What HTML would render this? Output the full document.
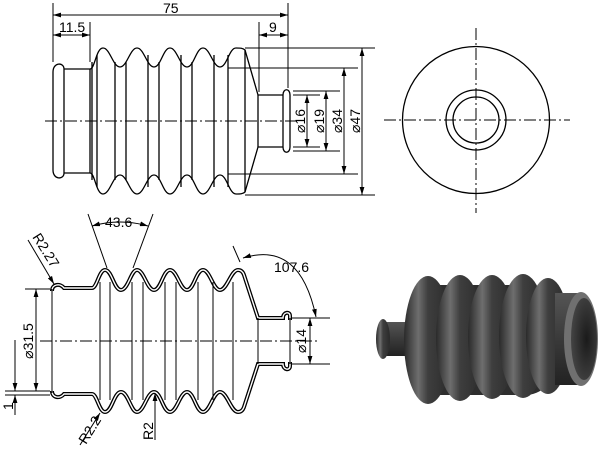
<!DOCTYPE html>
<html><head><meta charset="utf-8"><style>
html,body{margin:0;padding:0;background:#fff;width:600px;height:450px;overflow:hidden}
svg{display:block}
text{font-family:"Liberation Sans",sans-serif;font-size:14px;fill:#000}
</style></head><body>
<svg width="600" height="450" viewBox="0 0 600 450" xmlns="http://www.w3.org/2000/svg">
<defs>
<marker id="a" viewBox="0 0 10 6" refX="10" refY="3" markerWidth="8" markerHeight="5" orient="auto-start-reverse"><path d="M0,0L10,3L0,6z" fill="#000"/></marker>
<linearGradient id="ring" x1="0" y1="0" x2="1" y2="0">
<stop offset="0" stop-color="#2a2a2a"/><stop offset="0.3" stop-color="#6e6e6e"/><stop offset="0.5" stop-color="#3e3e3e"/><stop offset="1" stop-color="#2a2a2a"/></linearGradient>
<linearGradient id="vert" x1="0" y1="0" x2="0" y2="1">
<stop offset="0" stop-color="#555"/><stop offset="0.5" stop-color="#3a3a3a"/><stop offset="1" stop-color="#222"/></linearGradient>
<radialGradient id="hole" cx="0.6" cy="0.5" r="0.6"><stop offset="0" stop-color="#1a1a1a"/><stop offset="1" stop-color="#444"/></radialGradient>
</defs>
<g fill="none" stroke="#000" stroke-width="1.3">
<!-- TOP VIEW -->
<path d="M53,72 C53,62 64,62 64,69 L64,173 C64,180 53,180 53,170 Z"/>
<path d="M64,69 L90,69 M64,173 L90,173"/>
<path d="M90,69 C95,69 96,48 103,48 C110,48 113,67 120,67 C127,67 130,48 137,48 C144,48 147,67 154,67 C161,67 163,48 170,48 C177,48 180,67 187,67 C194,67 196,48 203,48 C210,48 213,67 220,67 C227,67 229,48 236,48 C240,48 243,48 245,50 L258,95 L283,95"/>
<path d="M90,173 C95,173 96,194 103,194 C110,194 113,175 120,175 C127,175 130,194 137,194 C144,194 147,175 154,175 C161,175 163,194 170,194 C177,194 180,175 187,175 C194,175 196,194 203,194 C210,194 213,175 220,175 C227,175 229,194 236,194 C240,194 243,194 245,192 L258,147 L283,147"/>
<path d="M283,95 C283,88 290,88 290,95 L290,147 C290,154 283,154 283,147 Z"/>
<path d="M90,69V173 M92,62V180 M97,55V187 M115,62V180 M126,62V180 M148,55V187 M159,62V180 M181,55V187 M192,62V180 M214,55V187 M228,55V187 M245,50V192 M258,95V147"/>
<path d="M45,121H300" stroke-width="1" stroke-dasharray="12,3,2,3"/>
<path d="M53,3V62 M288,3V88 M90,22V62 M259,22V92" stroke-width="1"/>
<path d="M53,15H288" stroke-width="1" marker-start="url(#a)" marker-end="url(#a)"/>
<path d="M53,35H90" stroke-width="1" marker-start="url(#a)" marker-end="url(#a)"/>
<path d="M259,35H288" stroke-width="1" marker-start="url(#a)" marker-end="url(#a)"/>
<path d="M245,48H375 M228,68H358 M293,91H340 M293,151H340 M293,95H320 M293,147H320 M228,174H358 M245,195H375" stroke-width="1"/>
<path d="M362,48V195" stroke-width="1" marker-start="url(#a)" marker-end="url(#a)"/>
<path d="M344,68V174" stroke-width="1" marker-start="url(#a)" marker-end="url(#a)"/>
<path d="M326,91V151" stroke-width="1" marker-start="url(#a)" marker-end="url(#a)"/>
<path d="M307,95V147" stroke-width="1" marker-start="url(#a)" marker-end="url(#a)"/>
<!-- SIDE VIEW -->
<circle cx="476" cy="120" r="73.5"/>
<circle cx="476" cy="120" r="30"/>
<circle cx="476" cy="120" r="23"/>
<path d="M384,120H570 M476,28V213" stroke-width="1" stroke-dasharray="12,3,2,3"/>
<!-- SECTION VIEW -->
<g stroke="#000" stroke-width="4">
<path id="st" d="M52,291 C52,284 60,283 64,288 L92,288 C97,288 99,270 105,270 C112,270 114,290 121,290 C128,290 131,270 137,270 C144,270 147,290 154,290 C161,290 163,270 170,270 C177,270 180,290 187,290 C194,290 196,270 203,270 C210,270 213,290 220,290 C227,290 231,270 238,270 C241,270 243,272 244,275 L258,318 L283,318 C283,312 290,311 290,316 L290,320"/>
<path id="sb" d="M52,391 C52,398 60,399 64,394 L92,394 C97,394 99,412 105,412 C112,412 114,392 121,392 C128,392 131,412 137,412 C144,412 147,392 154,392 C161,392 163,412 170,412 C177,412 180,392 187,392 C194,392 196,412 203,412 C210,412 213,392 220,392 C227,392 231,412 238,412 C241,412 243,410 244,407 L258,364 L283,364 C283,370 290,371 290,366 L290,362"/>
</g>
<g stroke="#fff" stroke-width="1.4">
<use href="#st"/><use href="#sb"/>
</g>
<path d="M52,289V393 M258,318V364 M290,318V364 M100,282V400 M110,282V400 M132,282V400 M143,282V400 M165,282V400 M176,282V400 M198,282V400 M213,282V400 M233,282V400" stroke-width="1"/>
<path d="M40,341H320" stroke-width="1" stroke-dasharray="12,3,2,3"/>
<path d="M107,268L88,214 M133,268L153,214 M240,262L233,246" stroke-width="1"/>
<path d="M92,226 Q120,218 148,226" stroke-width="1" marker-start="url(#a)" marker-end="url(#a)"/>
<path d="M243,258 Q300,240 316,317" stroke-width="1" marker-start="url(#a)" marker-end="url(#a)"/>
<path d="M292,318H330 M292,364H330" stroke-width="1"/>
<path d="M310,318V364" stroke-width="1" marker-start="url(#a)" marker-end="url(#a)"/>
<path d="M25,289H50 M25,391H50 M5,391H50 M5,395H50" stroke-width="1"/>
<path d="M36,289V391" stroke-width="1" marker-start="url(#a)" marker-end="url(#a)"/>
<path d="M15,340V391" stroke-width="1" marker-end="url(#a)"/>
<path d="M15,415V395" stroke-width="1" marker-end="url(#a)"/>
<path d="M28,240L54,284" stroke-width="1" marker-end="url(#a)"/>
<path d="M80,445L100,413" stroke-width="1" marker-end="url(#a)"/>
<path d="M155,440V393" stroke-width="1" marker-end="url(#a)"/>
</g>
<text x="163" y="13">75</text>
<text x="59" y="32">11.5</text>
<text x="269" y="32">9</text>
<text transform="translate(305,121) rotate(-90)" text-anchor="middle">⌀16</text>
<text transform="translate(324,121) rotate(-90)" text-anchor="middle">⌀19</text>
<text transform="translate(342,121) rotate(-90)" text-anchor="middle">⌀34</text>
<text transform="translate(360,121) rotate(-90)" text-anchor="middle">⌀47</text>
<text x="105" y="227">43.6</text>
<text x="274" y="272">107.6</text>
<text transform="translate(32,237) rotate(58)">R2.27</text>
<text transform="translate(33,341) rotate(-90)" text-anchor="middle">⌀31.5</text>
<text transform="translate(13,410) rotate(-90)">1</text>
<text transform="translate(306,341) rotate(-90)" text-anchor="middle">⌀14</text>
<text transform="translate(86,445) rotate(-58)">R2.2</text>
<text transform="translate(153,440) rotate(-90)">R2</text>
<!-- 3D render -->
<g>
<rect x="383" y="322" width="24" height="34" fill="url(#vert)"/>
<ellipse cx="383" cy="339" rx="7" ry="20" fill="url(#ring)"/>
<rect x="410" y="285" width="145" height="110" rx="30" fill="#2e2e2e"/>
<ellipse cx="428" cy="340" rx="24" ry="64" fill="url(#ring)"/>
<ellipse cx="460" cy="338" rx="24" ry="63" fill="url(#ring)"/>
<ellipse cx="492" cy="337" rx="24" ry="62" fill="url(#ring)"/>
<ellipse cx="523" cy="336" rx="24" ry="62" fill="url(#ring)"/>
<ellipse cx="548" cy="336" rx="22" ry="58" fill="url(#ring)"/>
<rect x="555" y="293" width="26" height="92" fill="url(#vert)"/>
<ellipse cx="581" cy="339" rx="17" ry="47" fill="#707070"/>
<ellipse cx="584" cy="339" rx="13" ry="41" fill="url(#hole)"/>
</g>
</svg>
</body></html>
